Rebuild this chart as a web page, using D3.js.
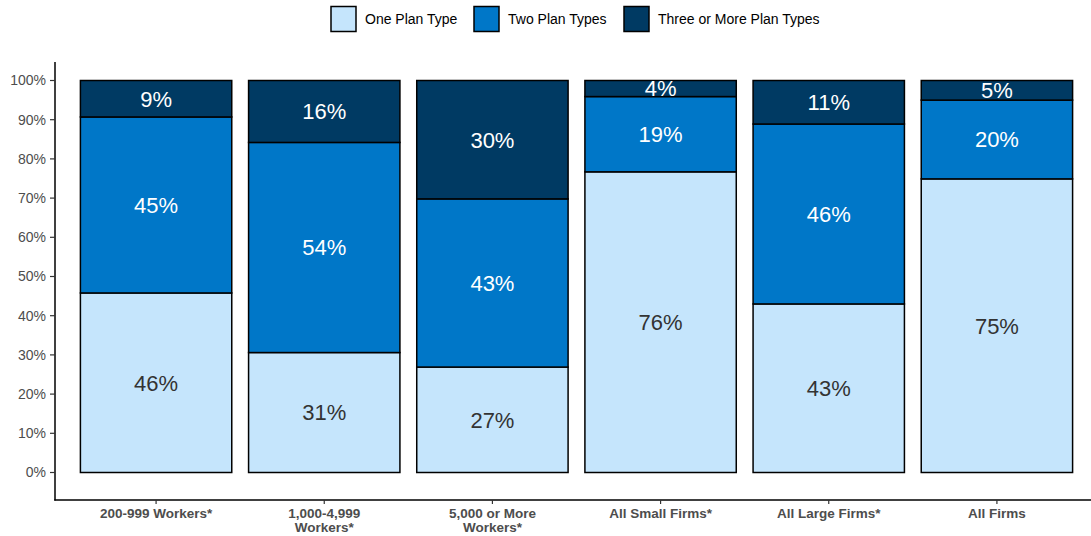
<!DOCTYPE html>
<html><head><meta charset="utf-8">
<script src="https://cdn.jsdelivr.net/npm/d3@7"></script>
<style>body{margin:0;background:#fff}svg{display:block;font-family:Arial,"Liberation Sans",sans-serif}</style>
</head><body><svg id="c" width="1091" height="536"></svg>
<script>
const categories = ["200-999 Workers*", "1,000-4,999 Workers*", "5,000 or More Workers*", "All Small Firms*", "All Large Firms*", "All Firms"];
const categoryLines = [["200-999 Workers*"], ["1,000-4,999", "Workers*"], ["5,000 or More", "Workers*"], ["All Small Firms*"], ["All Large Firms*"], ["All Firms"]];
const seriesNames = ["One Plan Type", "Two Plan Types", "Three or More Plan Types"];
const onePlan = [45.8, 30.6, 26.9, 76.7, 43.0, 74.9];
const twoPlans = [44.9, 53.6, 42.9, 19.2, 45.9, 20.1];
const threePlus = [9.3, 15.8, 30.2, 4.1, 11.1, 5.0];
const oneLabels = ["46%", "31%", "27%", "76%", "43%", "75%"];
const twoLabels = ["45%", "54%", "43%", "19%", "46%", "20%"];
const threeLabels = ["9%", "16%", "30%", "4%", "11%", "5%"];
const yTicks = [0, 10, 20, 30, 40, 50, 60, 70, 80, 90, 100];
const colors = ["#C5E5FC", "#0077C8", "#003A63"];
const textColors = ["#333333", "#ffffff", "#ffffff"];

const svg = d3.select("#c");
const x = d3.scaleBand().domain(categories).range([72, 1081]).paddingInner(0.1).paddingOuter(0.05);
const y = d3.scaleLinear().domain([0, 100]).range([472.5, 80.5]);

const series = [onePlan, twoPlans, threePlus];
const labels = [oneLabels, twoLabels, threeLabels];

// axes lines
svg.append("line").attr("x1", 55).attr("x2", 55).attr("y1", 62).attr("y2", 500.5).attr("stroke", "#000").attr("stroke-width", 1.5);
svg.append("line").attr("x1", 54.25).attr("x2", 1091).attr("y1", 500).attr("y2", 500).attr("stroke", "#000").attr("stroke-width", 1.5);

// y axis ticks
const yg = svg.append("g");
yTicks.forEach(t => {
  yg.append("line").attr("x1", 50).attr("x2", 55).attr("y1", y(t)).attr("y2", y(t)).attr("stroke", "#333").attr("stroke-width", 1.2);
  yg.append("text").attr("x", 46).attr("y", y(t)).attr("dy", "0.35em").attr("text-anchor", "end")
    .attr("font-size", 14).attr("fill", "#4d4d4d").text(t + "%");
});

// x ticks and labels
categories.forEach((c, i) => {
  const cx = x(c) + x.bandwidth() / 2;
  svg.append("line").attr("x1", cx).attr("x2", cx).attr("y1", 500).attr("y2", 504).attr("stroke", "#333").attr("stroke-width", 1.2);
  categoryLines[i].forEach((ln, j) => {
    svg.append("text").attr("text-anchor", "middle").attr("font-size", 13.5).attr("font-weight", "bold").attr("fill", "#4d4d4d")
      .attr("x", cx).attr("y", 518 + j * 14).text(ln);
  });
});

// bars
categories.forEach((c, i) => {
  let base = 0;
  series.forEach((s, k) => {
    const v = s[i];
    const top = base + v;
    svg.append("rect").attr("x", x(c)).attr("width", x.bandwidth())
      .attr("y", y(top)).attr("height", y(base) - y(top))
      .attr("fill", colors[k]).attr("stroke", "#000").attr("stroke-width", 1.5);
    base = top;
  });
});
categories.forEach((c, i) => {
  let base = 0;
  series.forEach((s, k) => {
    const v = s[i];
    const mid = base + v / 2;
    svg.append("text").attr("x", x(c) + x.bandwidth() / 2).attr("y", y(mid)).attr("dy", "0.36em")
      .attr("text-anchor", "middle").attr("font-size", 22).attr("fill", textColors[k]).text(labels[k][i]);
    base += v;
  });
});

// legend
const legX = [331, 474, 624];
seriesNames.forEach((n, k) => {
  svg.append("rect").attr("x", legX[k]).attr("y", 6.5).attr("width", 25).attr("height", 25)
    .attr("fill", colors[k]).attr("stroke", "#000").attr("stroke-width", 1.5);
  svg.append("text").attr("x", legX[k] + 34).attr("y", 19).attr("dy", "0.35em").attr("font-size", 14).attr("fill", "#000").text(n);
});
</script></body></html>
